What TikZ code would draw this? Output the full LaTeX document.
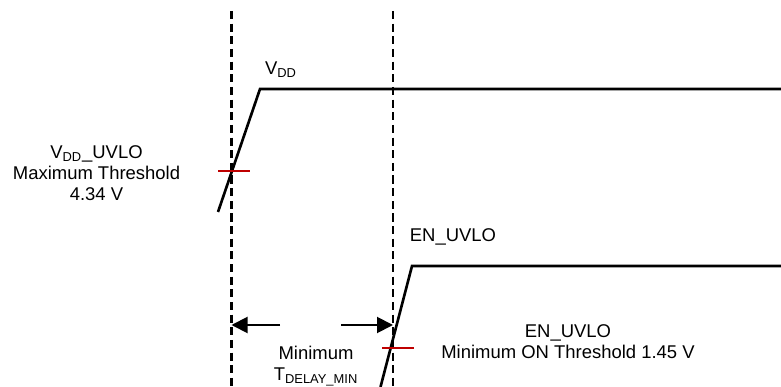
\documentclass[tikz,border=0pt]{standalone}
\usepackage{fontspec}
\setmainfont{Liberation Sans}
\usepackage{tikz}
\usetikzlibrary{arrows.meta,calc,positioning}

\begin{document}
\begin{tikzpicture}[>={Triangle[length=0.32cm,width=0.32cm]},
    font=\fontsize{10.5}{12}\selectfont,
    guide/.style={black,line width=1.3pt,dash pattern=on 4.6pt off 2.6pt},
    wave/.style={black,line width=1.5pt,line join=miter},
    thr/.style={red!75!black,line width=1.1pt},
    dim/.style={->,black,line width=1.1pt},
    lbl/.style={align=center,inner sep=0pt}]
  \useasboundingbox (0,0) rectangle (15.62,7.74);
  % time markers
  \coordinate (gTop1) at (4.63,7.52);  \coordinate (gBot1) at (4.63,0);
  \coordinate (gTop2) at (7.86,7.52);  \coordinate (gBot2) at (7.86,0);
  \draw[guide] (gTop1) -- (gBot1);
  \draw[guide] (gTop2) -- (gBot2);
  % VDD ramp
  \coordinate (vddLo) at (4.36,3.50);
  \coordinate (vddHi) at (5.20,5.96);
  \coordinate (vddEnd) at (15.62,5.96);
  \draw[wave] (vddLo) -- (vddHi) -- (vddEnd);
  \draw[thr] (4.36,4.32) -- (5.00,4.32);
  % EN_UVLO ramp
  \coordinate (enLo) at (7.61,0);
  \coordinate (enHi) at (8.24,2.42);
  \coordinate (enEnd) at (15.62,2.42);
  \draw[wave] (enLo) -- (enHi) -- (enEnd);
  \draw[thr] (7.64,0.78) -- (8.28,0.78);
  % delay dimension
  \coordinate (dA) at (4.63,1.24);  \coordinate (dL) at (5.60,1.24);
  \coordinate (dB) at (7.86,1.24);  \coordinate (dR) at (6.82,1.24);
  \draw[dim] (dL) -- (dA);
  \draw[dim] (dR) -- (dB);
  % labels
  \node[lbl] (vdd) at (5.62,6.34) {V\textsubscript{DD}};
  \node[lbl] (vddThr) at (1.93,4.28)
     {V\textsubscript{DD}\_UVLO\\Maximum Threshold\\4.34 V};
  \node[lbl] (en) at (9.06,3.00) {EN\_UVLO};
  \node[lbl] (enThr) at (11.36,0.91)
     {EN\_UVLO\\Minimum ON Threshold 1.45 V};
  \node[lbl] (tdly) at (6.32,0.42)
     {Minimum\\T\textsubscript{DELAY\_MIN}};
\end{tikzpicture}
\end{document}
